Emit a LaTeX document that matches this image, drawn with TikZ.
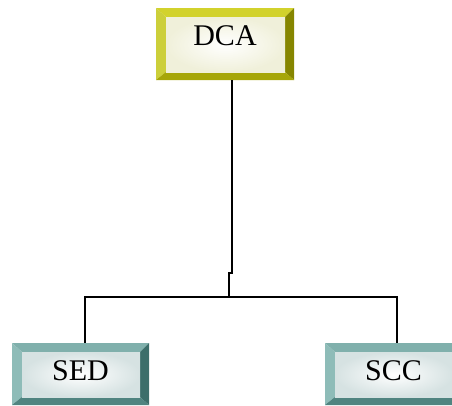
\documentclass[tikz,border=0pt]{standalone}
\usepackage{fontspec}
\setmainfont{Liberation Serif}
\definecolor{ytop}{RGB}{210,210,44}
\definecolor{yleft}{RGB}{204,207,58}
\definecolor{yright}{RGB}{134,134,0}
\definecolor{ybot}{RGB}{166,166,8}
\definecolor{yface}{RGB}{240,240,218}
\definecolor{ttop}{RGB}{128,176,172}
\definecolor{tleft}{RGB}{142,188,184}
\definecolor{tright}{RGB}{60,110,106}
\definecolor{tbot}{RGB}{80,132,128}
\definecolor{tface}{RGB}{214,226,226}
\tikzset{
  bevelbox/.style n args={5}{rectangle, inner sep=0pt, draw=none,
    path picture={
      \fill[#1] (path picture bounding box.north west) -- (path picture bounding box.north east)
        -- ([shift={(-9pt,-9pt)}]path picture bounding box.north east)
        -- ([shift={(10pt,-9pt)}]path picture bounding box.north west) -- cycle;
      \fill[#2] (path picture bounding box.north west) -- (path picture bounding box.south west)
        -- ([shift={(10pt,8pt)}]path picture bounding box.south west)
        -- ([shift={(10pt,-9pt)}]path picture bounding box.north west) -- cycle;
      \fill[#3] (path picture bounding box.north east) -- (path picture bounding box.south east)
        -- ([shift={(-9pt,8pt)}]path picture bounding box.south east)
        -- ([shift={(-9pt,-9pt)}]path picture bounding box.north east) -- cycle;
      \fill[#4] (path picture bounding box.south west) -- (path picture bounding box.south east)
        -- ([shift={(-9pt,8pt)}]path picture bounding box.south east)
        -- ([shift={(10pt,8pt)}]path picture bounding box.south west) -- cycle;
      \shade[inner color=white, outer color=#5]
        ([shift={(10pt,8pt)}]path picture bounding box.south west) rectangle
        ([shift={(-9pt,-9pt)}]path picture bounding box.north east);
    }},
  ybox/.style={bevelbox={ytop}{yleft}{yright}{ybot}{yface}},
  tbox/.style={bevelbox={ttop}{tleft}{tright}{tbot}{tface}},
  boxtext/.style={font=\fontsize{30}{30}\selectfont, text=black},
  conn/.style={draw=black, line width=1.6pt}
}
\begin{document}
\begin{tikzpicture}[x=1pt, y=-1pt]
\useasboundingbox (0,0) rectangle (452,405);
\clip (0,0) rectangle (452,405);
\node[ybox, minimum width=138pt, minimum height=72pt,
  label={[boxtext, yshift=8pt]center:DCA}] (dca) at (225,44) {};
\node[tbox, minimum width=137pt, minimum height=62pt,
  label={[boxtext, yshift=3pt]center:SED}] (sed) at (80.5,374) {};
\node[tbox, minimum width=137pt, minimum height=62pt,
  label={[boxtext, yshift=3pt]center:SCC}] (scc) at (393.5,374) {};
\coordinate (j1) at (232,273);
\coordinate (j2) at (229,273);
\coordinate (bus) at (229,297);
\draw[conn] ([xshift=7pt]dca.south) -- (j1) -- (j2) -- (bus);
\draw[conn] ([xshift=4.5pt]sed.north) |- (bus) -| ([xshift=3.5pt]scc.north);
\end{tikzpicture}
\end{document}
